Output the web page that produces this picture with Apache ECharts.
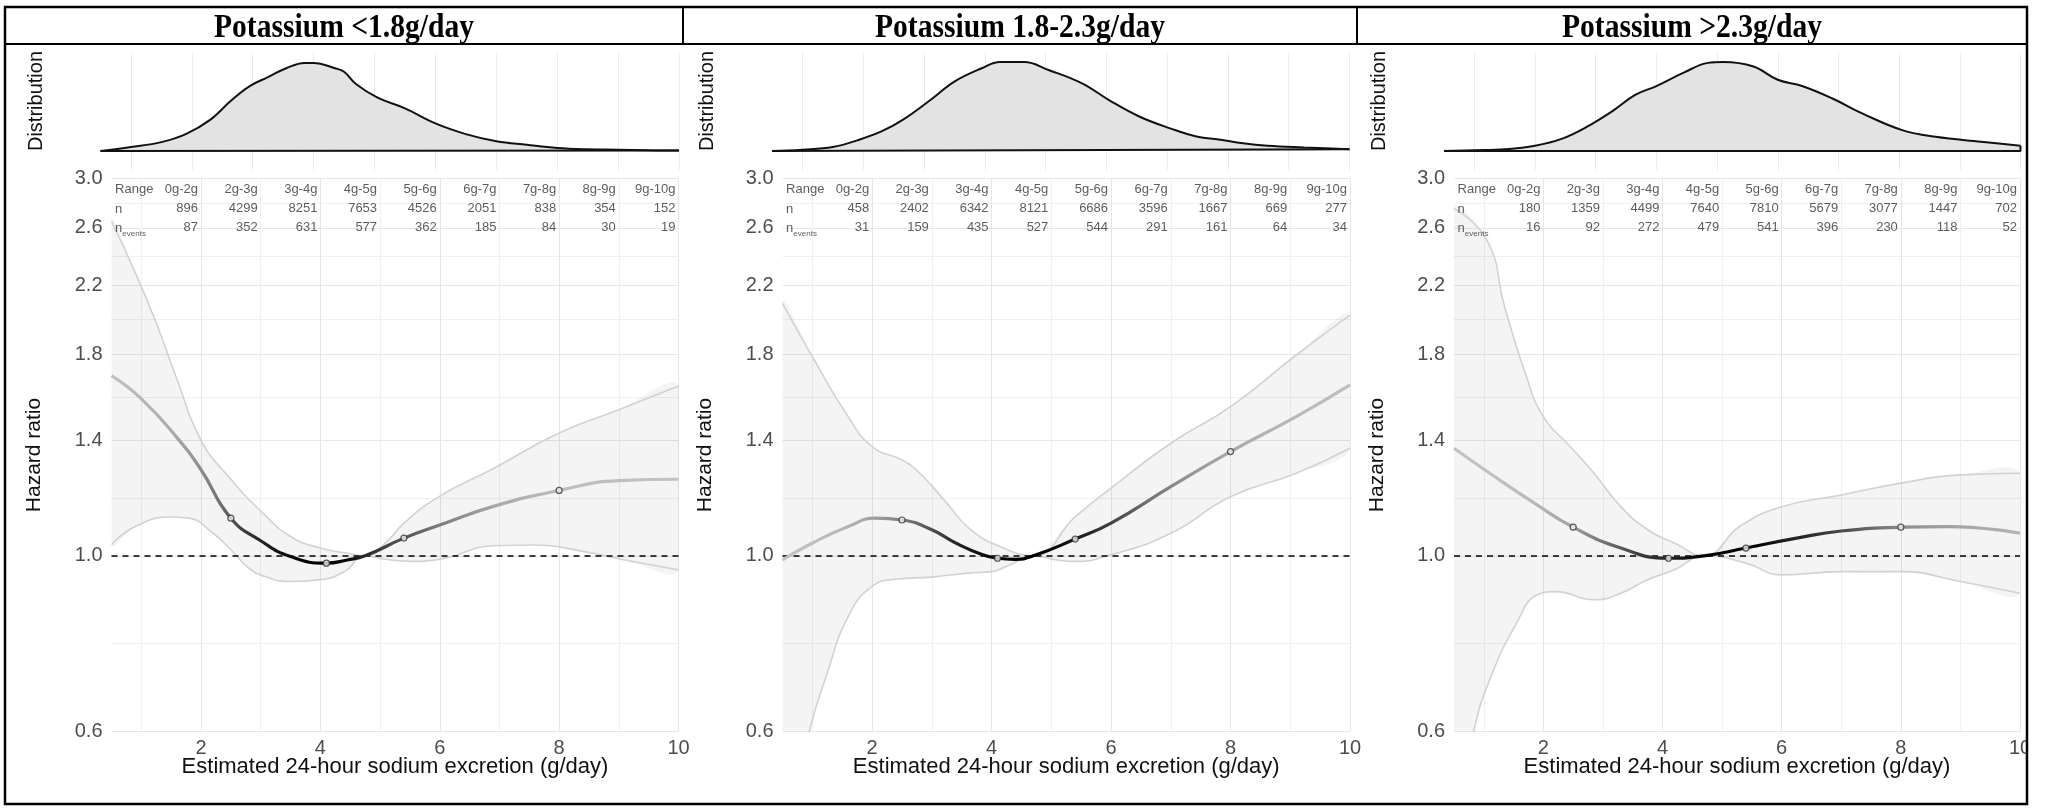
<!DOCTYPE html>
<html><head><meta charset="utf-8">
<script src="https://cdn.jsdelivr.net/npm/echarts@6/dist/echarts.min.js"></script>
<style>html,body{margin:0;padding:0;background:#fff}#c{width:2045px;height:808px}</style>
</head><body><div id="c"></div>
<script>
// ---------------- DATA ----------------
const panelTitles = ['Potassium <1.8g/day', 'Potassium 1.8-2.3g/day', 'Potassium >2.3g/day'];
const rangeLabels = ['0g-2g', '2g-3g', '3g-4g', '4g-5g', '5g-6g', '6g-7g', '7g-8g', '8g-9g', '9g-10g'];
const rangeUpper = [2, 3, 4, 5, 6, 7, 8, 9, 10];
const rowNames = ['Range', 'n', 'n_events'];
const nP1 = [896, 4299, 8251, 7653, 4526, 2051, 838, 354, 152];
const nP2 = [458, 2402, 6342, 8121, 6686, 3596, 1667, 669, 277];
const nP3 = [180, 1359, 4499, 7640, 7810, 5679, 3077, 1447, 702];
const evP1 = [87, 352, 631, 577, 362, 185, 84, 30, 19];
const evP2 = [31, 159, 435, 527, 544, 291, 161, 64, 34];
const evP3 = [16, 92, 272, 479, 541, 396, 230, 118, 52];

const xMajorTicks = [2, 4, 6, 8, 10];
const xMinorTicks = [1, 3, 5, 7, 9];
const distTicks = [1, 2, 3, 4, 5, 6, 7, 8, 9, 10];
const yMajorTicks = [0.6, 1.0, 1.4, 1.8, 2.2, 2.6, 3.0];
const yMinorTicks = [0.775, 1.183, 1.587, 1.99, 2.392, 2.793];

// distribution (relative density) per panel
const distX1 = [0.5, 1.0, 1.5, 1.9, 2.3, 2.65, 2.95, 3.25, 3.55, 3.85, 4.0, 4.35, 4.5, 4.7, 5.05, 5.5, 6.0, 6.5, 7.0, 7.5, 8.0, 8.5, 9.0, 9.5, 10];
const distY1 = [0, 0.045, 0.10, 0.19, 0.35, 0.57, 0.73, 0.83, 0.93, 0.99, 0.99, 0.93, 0.89, 0.75, 0.60, 0.48, 0.31, 0.19, 0.11, 0.07, 0.035, 0.02, 0.015, 0.008, 0.005];
const distX2 = [0.5, 1.0, 1.5, 1.9, 2.3, 2.65, 3.1, 3.5, 3.95, 4.25, 4.65, 5.05, 5.6, 6.05, 6.55, 7.05, 7.5, 7.85, 8.25, 8.65, 9.25, 10];
const distY2 = [0, 0.015, 0.045, 0.12, 0.22, 0.35, 0.57, 0.78, 0.93, 1.0, 1.0, 0.91, 0.76, 0.57, 0.385, 0.255, 0.16, 0.13, 0.087, 0.06, 0.04, 0.02];
const distX3 = [0.5, 1.0, 1.5, 2.0, 2.45, 2.85, 3.3, 3.65, 4.0, 4.45, 4.85, 5.1, 5.6, 6.0, 6.4, 6.9, 7.4, 8.05, 8.6, 9.35, 10];
const distY3 = [0, 0.008, 0.02, 0.06, 0.14, 0.27, 0.46, 0.63, 0.73, 0.88, 0.99, 1.0, 0.95, 0.80, 0.73, 0.59, 0.42, 0.235, 0.16, 0.105, 0.06];

// hazard ratio curves
const hrX1 = [0.5, 1.0, 1.6, 2.0, 2.5, 3.0, 3.5, 4.1, 4.45, 4.75, 5.4, 6.0, 6.9, 8.0, 9.0, 10];
const hr1  = [1.69, 1.58, 1.41, 1.285, 1.116, 1.045, 0.998, 0.979, 0.988, 1.0, 1.053, 1.094, 1.155, 1.21, 1.245, 1.25];
const upX1 = [0.5, 0.9, 1.25, 1.6, 2.0, 2.5, 3.0, 3.5, 4.0, 4.5, 4.75, 5.1, 5.4, 6.0, 6.9, 8.0, 9.0, 10];
const up1  = [2.65, 2.28, 1.97, 1.67, 1.40, 1.25, 1.14, 1.058, 1.023, 1.006, 1.0, 1.04, 1.10, 1.19, 1.29, 1.43, 1.53, 1.64];
const loX1 = [0.5, 0.9, 1.5, 1.8, 2.2, 2.5, 2.8, 3.1, 3.5, 4.0, 4.4, 4.75, 5.1, 5.5, 6.0, 6.9, 7.6, 8.4, 9.1, 10];
const lo1  = [1.033, 1.089, 1.12, 1.116, 1.068, 1.018, 0.965, 0.94, 0.928, 0.933, 0.955, 1.0, 0.99, 0.984, 0.99, 1.03, 1.032, 1.013, 0.988, 0.96];

const hrX2 = [0.5, 1.0, 1.6, 2.05, 2.5, 3.0, 3.4, 3.85, 4.1, 4.4, 4.7, 5.4, 6.0, 7.0, 8.0, 9.1, 10];
const hr2  = [0.988, 1.038, 1.089, 1.116, 1.11, 1.079, 1.038, 1.003, 0.993, 0.99, 1.0, 1.05, 1.10, 1.223, 1.355, 1.50, 1.645];
const upX2 = [0.5, 1.0, 1.6, 2.0, 2.5, 2.8, 3.25, 3.65, 4.15, 4.7, 5.4, 6.0, 7.0, 8.0, 9.1, 10];
const up2  = [2.086, 1.786, 1.50, 1.375, 1.322, 1.272, 1.166, 1.079, 1.027, 1.0, 1.12, 1.218, 1.388, 1.544, 1.795, 2.016];
const loX2 = [0.5, 0.95, 1.25, 1.6, 2.0, 2.4, 3.0, 3.6, 4.0, 4.3, 4.7, 5.1, 5.4, 6.0, 7.0, 8.0, 9.1, 10];
const lo2  = [0.42, 0.6, 0.711, 0.838, 0.915, 0.934, 0.94, 0.951, 0.955, 0.974, 1.0, 0.988, 0.984, 1.003, 1.068, 1.188, 1.272, 1.368];

const hrX3 = [0.5, 1.1, 1.85, 2.5, 3.3, 4.1, 4.7, 5.4, 6.25, 7.0, 8.0, 8.8, 10];
const hr3  = [1.368, 1.272, 1.166, 1.087, 1.023, 0.993, 1.0, 1.023, 1.053, 1.075, 1.087, 1.089, 1.068];
const upX3 = [0.5, 1.05, 1.35, 1.7, 2.0, 2.45, 2.85, 3.3, 3.75, 4.2, 4.7, 5.3, 6.0, 7.0, 8.0, 9.0, 10];
const up3  = [2.75, 2.51, 2.066, 1.70, 1.50, 1.375, 1.272, 1.154, 1.079, 1.038, 1.0, 1.09, 1.154, 1.194, 1.236, 1.266, 1.272];
const loX3 = [0.5, 0.83, 1.1, 1.55, 1.9, 2.2, 2.85, 3.3, 3.75, 4.2, 4.7, 5.4, 6.0, 7.0, 8.0, 9.0, 10];
const lo3  = [0.45, 0.6, 0.697, 0.822, 0.893, 0.901, 0.88, 0.897, 0.933, 0.96, 1.0, 0.979, 0.946, 0.955, 0.955, 0.928, 0.897];

const markX = [2.5, 4.1, 5.4, 8.0];
const mark1 = [1.116, 0.979, 1.053, 1.21];
const mark2 = [1.11, 0.993, 1.05, 1.355];
const mark3 = [1.087, 0.993, 1.023, 1.087];
const refHR = 1.0;

// ---------------- LAYOUT ----------------
const FONT = '"Liberation Sans", Arial, sans-serif';
const tableRowY = [2.91, 2.75, 2.6];
const tableLabelX = 0.56;
const distLeft = [100.5, 772, 1444], distW = [578.5, 577.5, 576.5];
const hzLeft = [111.5, 782.5, 1454], hzW = [567, 567.5, 566];
const hzTop = 178.5, hzH = 553;
const off = [0, 671, 1343];
const titleCX = [344, 1020, 1692];
const frameL = 5, frameT = 7, frameR = 2027, frameB = 804;

const panels = [
  {n: nP1, ev: evP1, dx: distX1, dy: distY1, hx: hrX1, hy: hr1, ux: upX1, uy: up1, lx: loX1, ly: lo1, mk: mark1},
  {n: nP2, ev: evP2, dx: distX2, dy: distY2, hx: hrX2, hy: hr2, ux: upX2, uy: up2, lx: loX2, ly: lo2, mk: mark2},
  {n: nP3, ev: evP3, dx: distX3, dy: distY3, hx: hrX3, hy: hr3, ux: upX3, uy: up3, lx: loX3, ly: lo3, mk: mark3}
];

const zip = (a, b) => a.map((v, i) => [v, b[i]]);

function lineGradient(dx, dy) {
  const stops = dx.map((x, i) => {
    const g = Math.round(195 * Math.pow(1 - dy[i], 1.2));
    return {offset: Math.min(1, Math.max(0, (x - 0.5) / 9.5)), color: 'rgb(' + g + ',' + g + ',' + g + ')'};
  });
  return new echarts.graphic.LinearGradient(0, 0, 1, 0, stops);
}

const grids = [], xAxes = [], yAxes = [], series = [], graphics = [];

panels.forEach((p, i) => {
  const gD = grids.length;
  grids.push({left: distLeft[i], top: 53, width: distW[i], height: 117, containLabel: false, outerBoundsMode: 'none'});
  const gH = grids.length;
  grids.push({left: hzLeft[i], top: hzTop, width: hzW[i], height: hzH, containLabel: false, outerBoundsMode: 'none'});

  const xD = xAxes.length;
  xAxes.push({gridIndex: gD, type: 'value', min: 0.5, max: 10, axisLine: {show: false}, axisLabel: {show: false},
    axisTick: {show: false, customValues: distTicks}, splitLine: {show: true, lineStyle: {color: '#ebebeb', width: 1}}});
  const xH = xAxes.length;
  xAxes.push({gridIndex: gH, type: 'value', position: 'bottom', min: 0.5, max: 10, axisLine: {show: false},
    axisTick: {show: false, customValues: xMajorTicks},
    axisLabel: {customValues: xMajorTicks, fontSize: 20, color: '#4d4d4d', fontFamily: FONT, margin: 7},
    splitLine: {show: true, lineStyle: {color: '#e6e6e6', width: 1}}});
  xAxes.push({gridIndex: gH, type: 'value', position: 'top', min: 0.5, max: 10, axisLine: {show: false},
    axisTick: {show: false, customValues: xMinorTicks}, axisLabel: {show: false},
    splitLine: {show: true, lineStyle: {color: '#f0f0f0', width: 1}}});

  const yD = yAxes.length;
  yAxes.push({gridIndex: gD, type: 'value', min: -0.213, max: 1.101, show: false, splitLine: {show: false}});
  const yH = yAxes.length;
  yAxes.push({gridIndex: gH, type: 'log', logBase: 10, min: 0.5995, max: 3.0015, position: 'left', axisLine: {show: false},
    axisTick: {show: false, customValues: yMajorTicks},
    axisLabel: {customValues: yMajorTicks, formatter: v => Number(v).toFixed(1), fontSize: 20, color: '#4d4d4d', fontFamily: FONT, margin: 9},
    splitLine: {show: true, lineStyle: {color: '#e6e6e6', width: 1}}});
  yAxes.push({gridIndex: gH, type: 'log', logBase: 10, min: 0.5995, max: 3.0015, position: 'right', axisLine: {show: false},
    axisTick: {show: false, customValues: yMinorTicks}, axisLabel: {show: false},
    splitLine: {show: true, lineStyle: {color: '#f0f0f0', width: 1}}});

  // distribution
  series.push({type: 'line', xAxisIndex: xD, yAxisIndex: yD, data: zip(p.dx, p.dy), smooth: 0.4, showSymbol: false,
    lineStyle: {color: '#111', width: 2}, areaStyle: {color: '#e3e3e3', opacity: 1}, z: 2, silent: true});
  const last = p.dx.length - 1;
  series.push({type: 'line', xAxisIndex: xD, yAxisIndex: yD,
    data: [[p.dx[last], p.dy[last]], [p.dx[last], 0], [p.dx[0], 0]], showSymbol: false,
    lineStyle: {color: '#111', width: 2}, z: 3, silent: true});

  // ribbon
  const ux = p.ux, uy = p.uy, lx = p.lx, ly = p.ly;
  series.push({type: 'custom', xAxisIndex: xH, yAxisIndex: yH, clip: true, z: 1, silent: true, data: [0],
    renderItem: function (params, api) {
      const pts = [];
      for (let k = 0; k < ux.length; k++) pts.push(api.coord([ux[k], uy[k]]));
      for (let k = lx.length - 1; k >= 0; k--) pts.push(api.coord([lx[k], ly[k]]));
      const cs = params.coordSys;
      return {type: 'group', clipPath: {type: 'rect', shape: {x: cs.x, y: cs.y, width: cs.width, height: cs.height}},
        children: [{type: 'polygon', shape: {points: pts, smooth: 0.35}, style: {fill: 'rgba(0,0,0,0.045)', stroke: null}}]};
    }});
  // bounds
  series.push({type: 'line', xAxisIndex: xH, yAxisIndex: yH, data: zip(lx, ly), smooth: 0.5, showSymbol: false,
    lineStyle: {color: '#d2d2d2', width: 1.6}, z: 2, silent: true,
    markLine: {silent: true, symbol: 'none', label: {show: false}, z: 3,
      lineStyle: {color: '#000', width: 1.5, type: [6, 5]}, data: [{yAxis: refHR}]}});
  series.push({type: 'line', xAxisIndex: xH, yAxisIndex: yH, data: zip(ux, uy), smooth: 0.5, showSymbol: false,
    lineStyle: {color: '#d2d2d2', width: 1.6}, z: 2, silent: true});
  // main curve
  series.push({type: 'line', xAxisIndex: xH, yAxisIndex: yH, data: zip(p.hx, p.hy), smooth: 0.5, showSymbol: false,
    lineStyle: {color: lineGradient(p.dx, p.dy), width: 3.2}, z: 4, silent: true});
  // markers
  series.push({type: 'scatter', xAxisIndex: xH, yAxisIndex: yH, data: zip(markX, p.mk), symbol: 'circle', symbolSize: 6,
    itemStyle: {color: '#eeeeee', borderColor: '#333', borderWidth: 1.2}, z: 5, silent: true});

  // table
  const rowsText = [rangeLabels, p.n, p.ev];
  rowsText.forEach((txt, r) => {
    series.push({type: 'scatter', xAxisIndex: xH, yAxisIndex: yH, symbolSize: 0, silent: true, z: 6,
      data: rangeUpper.map((x, k) => ({value: [x, tableRowY[r]], name: String(txt[k])})),
      label: {show: true, position: 'left', distance: 3, formatter: '{b}', fontSize: 13, color: '#333', fontFamily: FONT}});
  });
  series.push({type: 'scatter', xAxisIndex: xH, yAxisIndex: yH, symbolSize: 0, silent: true, z: 6,
    data: rowNames.map((nm, r) => ({value: [tableLabelX, tableRowY[r]], name: nm})),
    label: {show: true, position: 'right', distance: 0, fontSize: 13, color: '#333', fontFamily: FONT,
      formatter: function (prm) {
        if (prm.name === 'n_events') return '{a|n}{s|events}';
        return '{a|' + prm.name + '}';
      },
      rich: {a: {fontSize: 13, color: '#333', fontFamily: FONT, verticalAlign: 'bottom', lineHeight: 14},
             s: {fontSize: 8, color: '#333', fontFamily: FONT, verticalAlign: 'bottom', lineHeight: 8, padding: [0, 0, -3, 0]}}}});

  // texts
  graphics.push({type: 'text', x: titleCX[i], y: 28, scaleX: 0.87, z: 70,
    style: {text: panelTitles[i], font: 'bold 34px "Liberation Serif", "Times New Roman", serif', fill: '#000',
      align: 'center', verticalAlign: 'middle', textAlign: 'center', textVerticalAlign: 'middle'}});
  graphics.push({type: 'text', x: 36 + off[i], y: 101, rotation: Math.PI / 2,
    style: {text: 'Distribution', font: '20px ' + FONT, fill: '#111', align: 'center', verticalAlign: 'middle', textAlign: 'center', textVerticalAlign: 'middle'}});
  graphics.push({type: 'text', x: 34 + off[i], y: 455, rotation: Math.PI / 2,
    style: {text: 'Hazard ratio', font: '21px ' + FONT, fill: '#111', align: 'center', verticalAlign: 'middle', textAlign: 'center', textVerticalAlign: 'middle'}});
  graphics.push({type: 'text', x: hzLeft[i] + hzW[i] / 2, y: 767,
    style: {text: 'Estimated 24-hour sodium excretion (g/day)', font: '22px ' + FONT, fill: '#111', align: 'center', verticalAlign: 'middle', textAlign: 'center', textVerticalAlign: 'middle'}});
});

// frame
graphics.push({type: 'rect', z: 60, shape: {x: frameR, y: 0, width: 2045 - frameR, height: 808}, style: {fill: '#fff'}});
graphics.push({type: 'rect', z: 61, shape: {x: frameL, y: frameT, width: frameR - frameL, height: frameB - frameT}, style: {fill: null, stroke: '#000', lineWidth: 2.5}});
graphics.push({type: 'line', z: 61, shape: {x1: frameL, y1: 44, x2: frameR, y2: 44}, style: {stroke: '#000', lineWidth: 2}});
graphics.push({type: 'line', z: 61, shape: {x1: 683, y1: frameT, x2: 683, y2: 44}, style: {stroke: '#000', lineWidth: 2}});
graphics.push({type: 'line', z: 61, shape: {x1: 1357, y1: frameT, x2: 1357, y2: 44}, style: {stroke: '#000', lineWidth: 2}});

const chart = echarts.init(document.getElementById('c'), null, {renderer: 'canvas', width: 2045, height: 808});
chart.setOption({
  animation: false,
  backgroundColor: '#fff',
  grid: grids, xAxis: xAxes, yAxis: yAxes, series: series,
  graphic: {elements: graphics}
});
</script>
</body></html>
